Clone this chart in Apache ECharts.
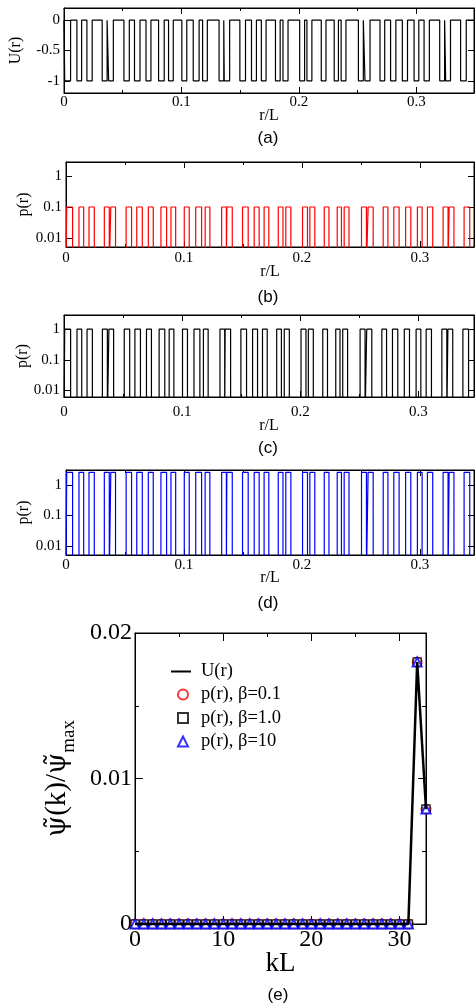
<!DOCTYPE html>
<html>
<head>
<meta charset="utf-8">
<script src="https://cdn.jsdelivr.net/npm/echarts@6/dist/echarts.min.js"></script>
<style>
  html, body { margin: 0; padding: 0; background: #fff; }
  #chart { width: 475px; height: 1007px; }
</style>
</head>
<body>
<div id="chart"></div>
<script>
// pulse edges in r/L, shared by panels (a)-(d)
const pulseStart = [0.0006, 0.011, 0.0195, 0.0325, 0.038, 0.051, 0.060, 0.0698, 0.0805, 0.089,
  0.1003, 0.110, 0.118, 0.132, 0.1364, 0.1497, 0.1596, 0.168, 0.180, 0.1864,
  0.2006, 0.2068, 0.219, 0.230, 0.2359, 0.2506, 0.2562, 0.269, 0.278, 0.288,
  0.298, 0.3065, 0.3198, 0.3249, 0.3376];
const pulseEnd = [0.0056, 0.015, 0.024, 0.0367, 0.042, 0.0556, 0.0647, 0.074, 0.0853, 0.093,
  0.1045, 0.115, 0.122, 0.136, 0.141, 0.1545, 0.1638, 0.172, 0.184, 0.1907,
  0.2048, 0.211, 0.223, 0.2336, 0.240, 0.2548, 0.2605, 0.273, 0.2825, 0.2924,
  0.302, 0.311, 0.324, 0.329, 0.3424];

// [outside pulse, inside pulse]
const levelsA = [0, -1];
const levelsB = [0.001, 0.1];
const levelsC = [0.001, 1];
const levelsD = [0.001, 2.6];

const uTicks = [-1, -0.5, 0];
const pTicks = [0.01, 0.1, 1];

// panel (e)
const kL = [0, 1, 2, 3, 4, 5, 6, 7, 8, 9, 10, 11, 12, 13, 14, 15, 16, 17, 18, 19, 20,
  21, 22, 23, 24, 25, 26, 27, 28, 29, 30, 31, 32, 33];
const psiU = [0, 0, 0, 0, 0, 0, 0, 0, 0, 0, 0, 0, 0, 0, 0, 0, 0, 0, 0, 0, 0,
  0, 0, 0, 0, 0, 0, 0, 0, 0, 0, 0, 0.0180, 0.0079];
const psiB01 = [0, 0, 0, 0, 0, 0, 0, 0, 0, 0, 0, 0, 0, 0, 0, 0, 0, 0, 0, 0, 0,
  0, 0, 0, 0, 0, 0, 0, 0, 0, 0, 0, 0.0180, 0.0079];
const psiB1 = [0, 0, 0, 0, 0, 0, 0, 0, 0, 0, 0, 0, 0, 0, 0, 0, 0, 0, 0, 0, 0,
  0, 0, 0, 0, 0, 0, 0, 0, 0, 0, 0, 0.0180, 0.0079];
const psiB10 = [0, 0, 0, 0, 0, 0, 0, 0, 0, 0, 0, 0, 0, 0, 0, 0, 0, 0, 0, 0, 0,
  0, 0, 0, 0, 0, 0, 0, 0, 0, 0, 0, 0.0180, 0.0079];

const SERIF = '"Liberation Serif", "DejaVu Serif", serif';

function stepLine(levels, xMax) {
  const lo = levels[0], hi = levels[1];
  const pts = [[0, lo]];
  pulseStart.forEach((s, i) => {
    pts.push([s, lo], [s, hi], [pulseEnd[i], hi], [pulseEnd[i], lo]);
  });
  pts.push([xMax, lo]);
  return pts;
}

const panels = [
  { top: 8, height: 85, left: 63, xMax: 0.349, levels: levelsA, color: '#000', log: false,
    yMin: -1.2, yMax: 0.2, yName: 'U(r)', yGap: 40, labMargin: 2, nameGap: 15, tag: '(a)', tagY: 138 },
  { top: 162, height: 85, left: 66, xMax: 0.346, levels: levelsB, color: '#ff0000', log: true,
    yMin: 0.0051, yMax: 2.85, yName: 'p(r)', yGap: 34, labMargin: 4, nameGap: 17, tag: '(b)', tagY: 297 },
  { top: 315, height: 82, left: 64, xMax: 0.347, levels: levelsC, color: '#000', log: true,
    yMin: 0.0061, yMax: 2.9, yName: 'p(r)', yGap: 33, labMargin: 8, nameGap: 21, tag: '(c)', tagY: 448 },
  { top: 470, height: 85, left: 66, xMax: 0.346, levels: levelsD, color: '#0000ff', log: true,
    yMin: 0.005, yMax: 3.1, yName: 'p(r)', yGap: 34, labMargin: 3, nameGap: 15, tag: '(d)', tagY: 603 }
];

const grid = [], xAxis = [], yAxis = [], series = [], graphic = [];
const lineBlack = { onZero: false, lineStyle: { color: '#000', width: 1 } };

panels.forEach((p, i) => {
  grid.push({ top: p.top, height: p.height, left: p.left, right: 1, show: true,
    borderColor: '#000', borderWidth: 1, backgroundColor: 'transparent' });
  const xBase = {
    type: 'value', gridIndex: i, min: 0, max: p.xMax, interval: 0.1,
    axisLine: lineBlack, splitLine: { show: false },
    axisTick: { inside: true, length: 6, lineStyle: { color: '#000' } },
    minorTick: { show: true, splitNumber: 2, length: 3, lineStyle: { color: '#000' } }
  };
  xAxis.push(Object.assign({}, xBase, {
    position: 'bottom',
    axisLabel: { fontFamily: SERIF, fontSize: 15, color: '#000', margin: p.labMargin, showMaxLabel: false },
    name: 'r/L', nameLocation: 'middle', nameGap: p.nameGap, nameMoveOverlap: false,
    nameTextStyle: { fontFamily: SERIF, fontSize: 16, color: '#000' }
  }));
  xAxis.push(Object.assign({}, xBase, { position: 'top', axisLabel: { show: false } }));
  const ticks = p.log ? pTicks : uTicks;
  const yBase = {
    type: p.log ? 'log' : 'value', logBase: 10, gridIndex: i, min: p.yMin, max: p.yMax,
    axisLine: lineBlack, splitLine: { show: false },
    axisTick: { inside: true, length: 6, customValues: ticks, lineStyle: { color: '#000' } }
  };
  yAxis.push(Object.assign({}, yBase, {
    position: 'left',
    axisLabel: { customValues: ticks, fontFamily: SERIF, fontSize: 15, color: '#000', margin: 4,
      formatter: v => String(v) },
    name: p.yName, nameLocation: 'middle', nameGap: p.yGap, nameRotate: 90, nameMoveOverlap: false,
    nameTextStyle: { fontFamily: SERIF, fontSize: 16, color: '#000' }
  }));
  yAxis.push(Object.assign({}, yBase, { position: 'right', axisLabel: { show: false } }));
  series.push({
    name: 'panel' + i, type: 'line', xAxisIndex: 2 * i, yAxisIndex: 2 * i,
    data: stepLine(p.levels, p.xMax), showSymbol: false, symbol: 'none', clip: true,
    lineStyle: { color: p.color, width: 1.2 }, silent: true
  });
  graphic.push({ type: 'text', style: { text: p.tag, x: 268, y: p.tagY, align: 'center',
    verticalAlign: 'middle', fontFamily: '"Liberation Sans", sans-serif', fontSize: 17, fill: '#000' } });
});

// panel (e)
const e = 4;
grid.push({ top: 633, height: 291, left: 135, right: 49, show: true,
  borderColor: '#000', borderWidth: 1, backgroundColor: 'transparent' });
const exBase = {
  type: 'value', gridIndex: e, min: 0, max: 33, interval: 10,
  axisLine: lineBlack, splitLine: { show: false },
  axisTick: { inside: true, length: 8, lineStyle: { color: '#000' } },
  minorTick: { show: true, splitNumber: 2, length: 4, lineStyle: { color: '#000' } }
};
xAxis.push(Object.assign({}, exBase, {
  position: 'bottom',
  axisLabel: { fontFamily: SERIF, fontSize: 24, color: '#000', margin: 4, showMaxLabel: false },
  name: 'kL', nameLocation: 'middle', nameGap: 26, nameMoveOverlap: false,
  nameTextStyle: { fontFamily: SERIF, fontSize: 27, color: '#000' }
}));
xAxis.push(Object.assign({}, exBase, { position: 'top', axisLabel: { show: false } }));
const eyBase = {
  type: 'value', gridIndex: e, min: 0, max: 0.02, interval: 0.01,
  axisLine: lineBlack, splitLine: { show: false },
  axisTick: { inside: true, length: 8, lineStyle: { color: '#000' } },
  minorTick: { show: true, splitNumber: 2, length: 4, lineStyle: { color: '#000' } }
};
yAxis.push(Object.assign({}, eyBase, {
  position: 'left',
  axisLabel: { fontFamily: SERIF, fontSize: 24, color: '#000', margin: 3 },
  name: '{p|ψ̃}{a|(k)/}{p|ψ̃}{s|max}', nameLocation: 'middle', nameGap: 56, nameRotate: 90,
  nameMoveOverlap: false,
  nameTextStyle: { fontFamily: SERIF, fontSize: 29, color: '#000',
    rich: {
      p: { fontFamily: '"DejaVu Serif", serif', fontSize: 27, color: '#000', padding: [0, 0, 7, 0] },
      a: { fontFamily: SERIF, fontSize: 29, color: '#000', padding: [0, 0, 7, 0] },
      s: { fontFamily: SERIF, fontSize: 19, color: '#000', verticalAlign: 'bottom' }
    } }
}));
yAxis.push(Object.assign({}, eyBase, { position: 'right', axisLabel: { show: false } }));

const xi = 8, yi = 8;
series.push({
  name: 'U(r)', type: 'line', xAxisIndex: xi, yAxisIndex: yi,
  data: kL.map((k, i) => [k, psiU[i]]), symbol: 'none', clip: false,
  lineStyle: { color: '#000', width: 2.5 }, itemStyle: { color: '#000' }
});
series.push({
  name: 'p(r), β=0.1', type: 'scatter', xAxisIndex: xi, yAxisIndex: yi, clip: false,
  data: kL.map((k, i) => [k, psiB01[i]]), symbol: 'circle', symbolSize: 9,
  itemStyle: { color: '#fff', borderColor: '#ff0000', borderWidth: 2 }
});
series.push({
  name: 'p(r), β=1.0', type: 'scatter', xAxisIndex: xi, yAxisIndex: yi, clip: false,
  data: kL.map((k, i) => [k, psiB1[i]]), symbol: 'rect', symbolSize: 8,
  itemStyle: { color: '#fff', borderColor: '#000', borderWidth: 1.5 }
});
series.push({
  name: 'p(r), β=10', type: 'scatter', xAxisIndex: xi, yAxisIndex: yi, clip: false,
  data: kL.map((k, i) => [k, psiB10[i]]), symbol: 'triangle', symbolSize: 9,
  itemStyle: { color: '#fff', borderColor: '#0000ff', borderWidth: 2 }
});
graphic.push({ type: 'text', style: { text: '(e)', x: 278, y: 995, align: 'center',
  verticalAlign: 'middle', fontFamily: '"Liberation Sans", sans-serif', fontSize: 17, fill: '#000' } });

const legendText = { fontFamily: SERIF, fontSize: 18.5, color: '#000' };

const chart = echarts.init(document.getElementById('chart'), null, { renderer: 'canvas' });
chart.setOption({
  animation: false,
  backgroundColor: '#fff',
  grid, xAxis, yAxis, series, graphic,
  legend: [
    {
      data: [{ name: 'U(r)', itemStyle: { color: 'rgba(0,0,0,0)', borderWidth: 0, opacity: 0 } }],
      orient: 'vertical', left: 165, top: 657, itemWidth: 20, itemHeight: 10,
      textStyle: Object.assign({ padding: [0, 0, 0, 5] }, legendText), selectedMode: false
    },
    {
      data: ['p(r), β=0.1', 'p(r), β=1.0', 'p(r), β=10'],
      orient: 'vertical', left: 172, top: 680, itemWidth: 10, itemHeight: 10, itemGap: 4.5,
      textStyle: Object.assign({ padding: [0, 0, 0, 8] }, legendText), selectedMode: false
    }
  ]
});
</script>
</body>
</html>
